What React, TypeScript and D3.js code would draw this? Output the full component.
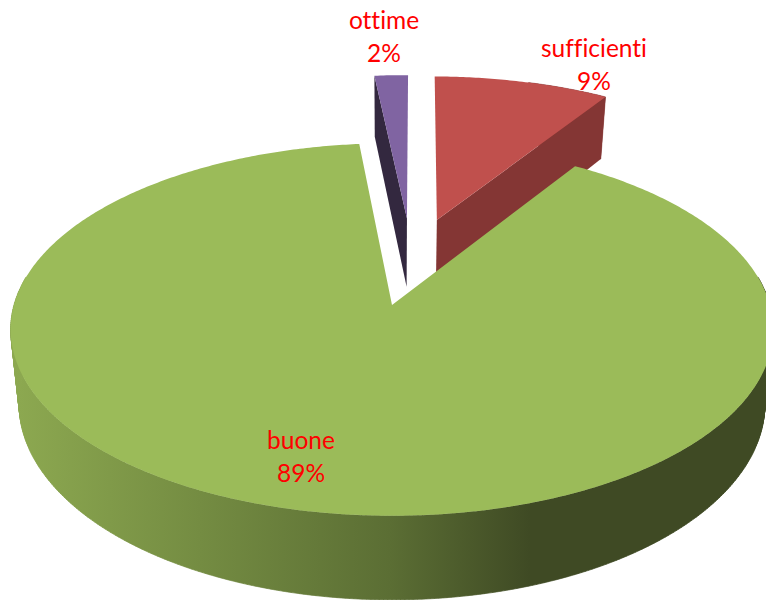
import * as d3 from 'd3'

const categories = ['ottime', 'sufficienti', 'buone']
const values = [1.7, 8.9, 89.4]
const topColors = ['#8064A2', '#C0504D', '#9BBB59']
const cutColors = ['#33283F', '#843634', '#9BBB59']
const labelXY = [[384, 19], [594, 47], [301, 439]]

// side wall of the big slice gets darker going to the right
const sideStops = [19, 200, 390, 530, 766]
const sideColors = ['#8CA850', '#748C42', '#5B6E34', '#3F4A24', '#3F4A24']

const width = 766
const height = 600
const apex = { x: 392, y: 305 }
const rx = 378
const ry = 183
const camera = 7.6
const wall = 73
const explode = 0.256
const hubNudge = -0.006
const lowerShrink = 0.978
const rotation = (0.5 * Math.PI) / 180

type P = { gx: number; gy: number }

// ground plane (radius 1 pie, y towards viewer) to screen, with a bit of perspective
function project(p: P, lower = false): [number, number] {
  const s = camera / (camera - p.gy)
  const xs = rx * (lower ? lowerShrink : 1)
  return [apex.x + p.gx * xs * s, apex.y + (p.gy * ry + (lower ? wall : 0)) * s]
}

const onCircle = (c: P, a: number): P => ({ gx: c.gx + Math.sin(a), gy: c.gy - Math.cos(a) })

const firstAngle = rotation - (values[0] / 100) * 2 * Math.PI
const slices = d3.pie<number>().sort(null).startAngle(firstAngle).endAngle(firstAngle + 2 * Math.PI)(values)

const mid = (s: { startAngle: number; endAngle: number }) => (s.startAngle + s.endAngle) / 2
const big = slices[2]
// the big slice's tip sits at the origin, the others are pushed out from the shared centre
const hub: P = { gx: -explode * Math.sin(mid(big)) + hubNudge, gy: explode * Math.cos(mid(big)) }
const centres: P[] = slices.map((s, i) =>
  i === 2
    ? { gx: 0, gy: 0 }
    : { gx: hub.gx + explode * Math.sin(mid(s)), gy: hub.gy - explode * Math.cos(mid(s)) },
)

const line = d3.line()
const arcAngles = (a0: number, a1: number) => {
  const n = Math.max(2, Math.ceil(Math.abs(a1 - a0) / 0.01))
  return d3.range(n + 1).map(i => a0 + ((a1 - a0) * i) / n)
}

function topPath(i: number) {
  const s = slices[i]
  const c = centres[i]
  const pts = arcAngles(s.startAngle, s.endAngle).map(a => project(onCircle(c, a)))
  return line([project(c), ...pts]) + 'Z'
}

function cutPath(i: number, a: number) {
  const c = centres[i]
  const o = onCircle(c, a)
  return line([project(c), project(o), project(o, true), project(c, true)]) + 'Z'
}

// outer wall as thin quads so the silhouette between the two rims stays filled
function wallQuads(i: number, a0: number, a1: number) {
  const c = centres[i]
  const as = arcAngles(a0, a1)
  return as.slice(1).map((a, k) => {
    const b = as[k]
    return line([project(onCircle(c, b)), project(onCircle(c, a)), project(onCircle(c, a), true), project(onCircle(c, b), true)]) + 'Z'
  })
}

const redWall = wallQuads(1, slices[1].startAngle + 0.3, slices[1].endAngle)
const greenWall = wallQuads(2, Math.PI * 0.45, Math.PI * 1.55)
const stopOffset = d3.scaleLinear().domain([0, width]).range([0, 1])

export default function App() {
  return (
    <svg width={width} height={height} style={{ position: 'absolute', left: 0, top: 0, background: '#fff' }}>
      <defs>
        <linearGradient id="greenSide" gradientUnits="userSpaceOnUse" x1={0} y1={0} x2={width} y2={0}>
          {sideStops.map((s, i) => (
            <stop key={s} offset={stopOffset(s)} stopColor={sideColors[i]} />
          ))}
        </linearGradient>
      </defs>
      {/* ottime */}
      <path d={cutPath(0, slices[0].startAngle)} fill={cutColors[0]} />
      <path d={topPath(0)} fill={topColors[0]} />
      {/* sufficienti */}
      <path d={redWall.join('')} fill={cutColors[1]} stroke={cutColors[1]} strokeWidth={0.5} />
      <path d={cutPath(1, slices[1].endAngle)} fill={cutColors[1]} />
      <path d={topPath(1)} fill={topColors[1]} />
      {/* buone */}
      <path d={greenWall.join('')} fill="url(#greenSide)" stroke="url(#greenSide)" strokeWidth={0.7} />
      <path d={topPath(2)} fill={topColors[2]} />
      {categories.map((c, i) => (
        <text
          key={c}
          x={labelXY[i][0]}
          y={labelXY[i][1]}
          textAnchor="middle"
          fill="#FF0000"
          fontFamily="Lato, 'Open Sans', sans-serif"
          fontSize={24.5}
          dominantBaseline="central"
          style={{ fontVariantLigatures: 'none' }}
        >
          <tspan x={labelXY[i][0]}>{c}</tspan>
          <tspan x={labelXY[i][0]} dy={32.5}>{`${Math.round(values[i])}%`}</tspan>
        </text>
      ))}
    </svg>
  )
}
